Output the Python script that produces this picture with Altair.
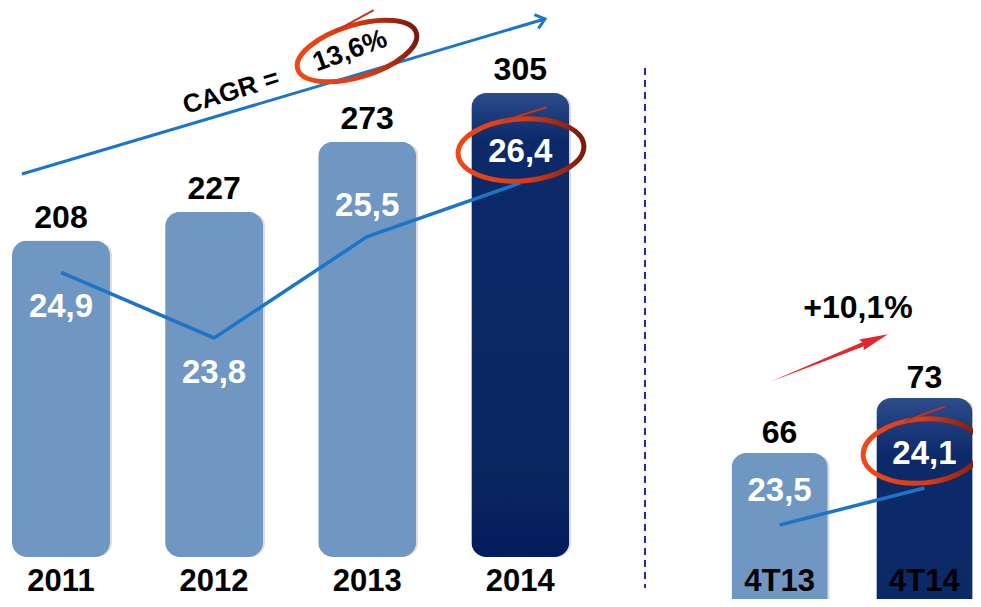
import altair as alt
import pandas as pd

# ---- data ----
years = ["2011", "2012", "2013", "2014"]
volumes = [208, 227, 273, 305]
margins = [24.9, 23.8, 25.5, 26.4]
label_below = [True, True, False, False]

quarters = ["4T13", "4T14"]
q_volumes = [66, 73]
q_margins = [23.5, 24.1]

highlight = ["2014", "4T14"]
cagr_label = "CAGR ="
cagr_value = "13,6%"
growth_label = "+10,1%"

W, H = 965, 591
FONT = "Liberation Sans"
LIGHT = "#7096C2"
LINE = "#1B75C9"

annual = pd.DataFrame({"cat": years, "vol": volumes, "m": margins, "below": label_below})
annual["hl"] = annual["cat"].isin(highlight)
quarter = pd.DataFrame({"cat": quarters, "vol": q_volumes, "m": q_margins})
quarter["hl"] = quarter["cat"].isin(highlight)
one = pd.DataFrame({"k": [0]})

# ---- scales ----
xa = alt.Scale(type="band", domain=years, range=[4, 561.3], paddingInner=0.36, paddingOuter=0)
xq = alt.Scale(type="band", domain=quarters, range=[723.5, 964.5], paddingInner=0.336, paddingOuter=0)
ya = alt.Scale(domain=[0, 360.9], range=[549, 0], nice=False)
yq = alt.Scale(domain=[52.8, 122.55], range=[549, 0], nice=False, zero=False)
la = alt.Scale(domain=[20.126, 29.335], range=[549, 0], nice=False, zero=False)
lq = alt.Scale(domain=[22.981, 31.883], range=[549, 0], nice=False, zero=False)

fmt = "replace(format(datum.m, '.1f'), '.', ',')"

dark_grad = alt.LinearGradient(
    gradient="linear", x1=0, x2=0, y1=0, y2=1,
    stops=[alt.GradientStop(color="#2C4C8C", offset=0),
           alt.GradientStop(color="#0C2A6A", offset=0.1),
           alt.GradientStop(color="#0A2661", offset=0.85),
           alt.GradientStop(color="#021B5C", offset=1)])
red_grad = alt.LinearGradient(
    gradient="linear", x1=0, x2=1, y1=0, y2=0,
    stops=[alt.GradientStop(color="#F04818", offset=0),
           alt.GradientStop(color="#D83A12", offset=0.55),
           alt.GradientStop(color="#7A1A0C", offset=1)])


def X(scale):
    return alt.X("cat:N", scale=scale, axis=None)


def group_layers(df, xs, ys, ls, baseline_px, top_dy, inner_rules):
    base = alt.Chart(df)
    y_bar = alt.Y("vol:Q", scale=ys, axis=None)
    enc_bar = dict(x=X(xs), y=y_bar)
    if baseline_px is not None:
        enc_bar["y2"] = alt.value(baseline_px)
    shadow = base.mark_bar(color="#8a8a8a", opacity=0.3, cornerRadius=15,
                           xOffset=2, yOffset=4).encode(**enc_bar)
    light = base.transform_filter("!datum.hl").mark_bar(
        color=LIGHT, cornerRadius=15).encode(**enc_bar)
    dark = base.transform_filter("datum.hl").mark_bar(
        fill=dark_grad, cornerRadius=15).encode(**enc_bar)
    line = base.mark_line(color=LINE, strokeWidth=3.5).encode(
        x=X(xs), y=alt.Y("m:Q", scale=ls, axis=None))
    top = base.mark_text(font=FONT, fontWeight="bold", fontSize=32, color="black",
                         baseline="middle", dy=top_dy).encode(
        x=X(xs), y=alt.Y("vol:Q", scale=ys, axis=None), text="vol:Q")
    cats = base.mark_text(font=FONT, fontWeight="bold", fontSize=31, color="black",
                          baseline="alphabetic").encode(
        x=X(xs), y=alt.value(583), text="cat:N")
    inner = []
    for flt, dy in inner_rules:
        c = base.transform_calculate(lab=fmt)
        if flt:
            c = c.transform_filter(flt)
        inner.append(c.mark_text(font=FONT, fontWeight="bold", fontSize=33,
                                 color="white", baseline="middle", dy=dy).encode(
            x=X(xs), y=alt.Y("m:Q", scale=ls, axis=None), text="lab:N"))
    return [shadow, light, dark, line] + inner + [top, cats]


left = group_layers(annual, xa, ya, la, None, -23,
                    [("datum.below", 35), ("!datum.below", -31)])
right = group_layers(quarter, xq, yq, lq, 549, -20, [(None, -34)])


def ellipse_path(e):
    k = 0.5523
    return (f"M -1 0 C -1 {-k*e:.4f} {-k} {-e:.4f} 0 {-e:.4f} "
            f"C {k} {-e:.4f} 1 {-k*e:.4f} 1 0 "
            f"C 1 {k*e:.4f} {k} {e:.4f} 0 {e:.4f} "
            f"C {-k} {e:.4f} -1 {k*e:.4f} -1 0 Z")


def tail_path(e):
    return f"M -0.25 {-0.97*e:.4f} Q 0.1 {-1.15*e:.4f} 0.45 {-1.32*e:.4f}"


def ellipse(cx, cy, rx, ry, ang):
    e = ry / rx
    size = (2 * rx) ** 2
    ring = alt.Chart(one).mark_point(shape=ellipse_path(e), size=size, filled=False,
                                     stroke=red_grad, strokeWidth=5, opacity=1,
                                     angle=ang).encode(x=alt.value(cx), y=alt.value(cy))
    tail = alt.Chart(one).mark_point(shape=tail_path(e), size=size, filled=False,
                                     stroke="#C8341A", strokeWidth=2, opacity=1,
                                     angle=ang).encode(x=alt.value(cx), y=alt.value(cy))
    return [ring, tail]


notes = []
# CAGR arrow
notes.append(alt.Chart(one).mark_rule(color=LINE, strokeWidth=3).encode(
    x=alt.value(14), y=alt.value(166), x2=alt.value(535), y2=alt.value(11.5)))
notes.append(alt.Chart(one).mark_point(shape="M -1 -0.8 L 0 0 L -1 0.8", size=324,
                                       filled=False, stroke=LINE, strokeWidth=3,
                                       opacity=1, angle=343.5).encode(
    x=alt.value(537), y=alt.value(11)))
notes.append(alt.Chart(one).mark_text(text=cagr_label, font=FONT, fontWeight="bold",
                                      fontSize=26, angle=343, color="black",
                                      baseline="middle").encode(
    x=alt.value(223), y=alt.value(84)))
notes.append(alt.Chart(one).mark_text(text=cagr_value, font=FONT, fontWeight="bold",
                                      fontSize=27, angle=340, color="black",
                                      baseline="middle").encode(
    x=alt.value(342), y=alt.value(43)))
notes += ellipse(349, 43, 62, 26, 343)
notes += ellipse(513, 142, 63, 31, 356)
notes += ellipse(914, 443, 59, 32, 355)
# divider
notes.append(alt.Chart(one).mark_rule(color="#2626A0", strokeWidth=2,
                                      strokeDash=[7, 5]).encode(
    x=alt.value(637), y=alt.value(60), y2=alt.value(580)))
# growth arrow
notes.append(alt.Chart(one).mark_point(
    shape="M -1 0 L 0.58 -0.035 L 0.55 -0.09 L 1 0 L 0.55 0.09 L 0.58 0.035 Z",
    size=16129, filled=True, fill="#E3262A", strokeWidth=0, opacity=1,
    angle=338).encode(x=alt.value(821), y=alt.value(350)))
notes.append(alt.Chart(one).mark_text(text=growth_label, font=FONT, fontWeight="bold",
                                      fontSize=32, color="black",
                                      baseline="middle").encode(
    x=alt.value(850), y=alt.value(300)))

chart = alt.layer(*left, *right, *notes).resolve_scale(
    x="independent", y="independent"
).properties(
    width=W, height=H, padding=0,
    autosize=alt.AutoSizeParams(type="none"),
    background="white",
).configure_view(stroke=None)

chart.save("out.html", embed_options={"renderer": "svg", "actions": False})
